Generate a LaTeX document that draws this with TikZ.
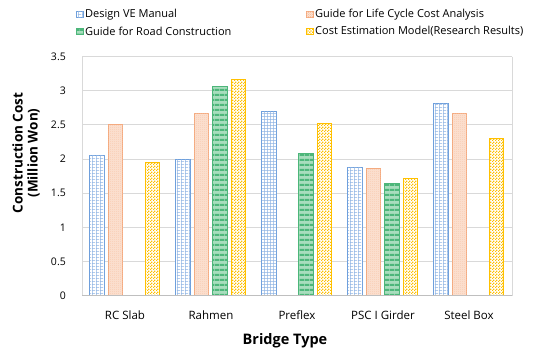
\documentclass[tikz,border=0pt]{standalone}
\usepackage{fontspec}
\setmainfont{Open Sans}
\usetikzlibrary{patterns,patterns.meta}
\definecolor{bluel}{HTML}{6E9FDC}
\definecolor{orl}{HTML}{F4A77A}
\definecolor{orf}{HTML}{FCE3D4}
\definecolor{grl}{HTML}{4DB67A}
\definecolor{grf}{HTML}{A8DDBD}
\definecolor{yel}{HTML}{FFC000}
\definecolor{gridc}{HTML}{D9D9D9}
\tikzdeclarepattern{name=bgrid, type=uncolored, bottom left={(0pt,0pt)}, top right={(3.4pt,3.4pt)}, tile size={(3.4pt,3.4pt)},
  code={\fill (0pt,0pt) rectangle (3.4pt,0.7pt); \fill (0pt,0pt) rectangle (0.7pt,3.4pt);}}
\tikzdeclarepattern{name=chk, type=uncolored, bottom left={(0pt,0pt)}, top right={(3pt,3pt)}, tile size={(3pt,3pt)},
  code={\fill (0pt,0pt) rectangle (1.5pt,1.5pt); \fill (1.5pt,1.5pt) rectangle (3pt,3pt);}}
\tikzdeclarepattern{name=fchk, type=uncolored, bottom left={(0pt,0pt)}, top right={(2pt,2pt)}, tile size={(2pt,2pt)},
  code={\fill (0pt,0pt) rectangle (1pt,1pt); \fill (1pt,1pt) rectangle (2pt,2pt);}}
\tikzdeclarepattern{name=hstr, type=uncolored, bottom left={(0pt,0pt)}, top right={(5pt,5pt)}, tile size={(5pt,5pt)},
  code={\fill (0pt,0pt) rectangle (5pt,2.6pt);}}
\tikzset{
  sblue/.style={draw=bluel, line width=0.9pt, fill=white, postaction={pattern=bgrid, pattern color=bluel!80}},
  sorange/.style={draw=orl, line width=0.9pt, fill=orf, postaction={pattern=fchk, pattern color=orl!70}},
  sgreen/.style={draw=grl, line width=0.9pt, fill=grf, postaction={pattern=hstr, pattern color=grl}},
  syellow/.style={draw=yel, line width=0.9pt, fill=white, postaction={pattern=chk, pattern color=yel}},
  tick/.style={font=\fontsize{10.5}{12}\selectfont, anchor=east, inner sep=0pt},
  cat/.style={font=\fontsize{11.5}{13}\selectfont, inner sep=0pt},
  leg/.style={font=\fontsize{11}{13}\selectfont, anchor=west, inner sep=0pt},
  ttl/.style={font=\bfseries\fontsize{13.5}{15}\selectfont, inner sep=0pt, align=center}
}
\newcommand\mybar[4]{%
  \pgfmathsetmacro\xl{82+86*#1+7.75+18.5*#2}%
  \pgfmathsetmacro\yt{295.7-68.33*#3}%
  \draw[#4] (\xl,295.7) rectangle (\xl+14.5,\yt);}
\begin{document}
\begin{tikzpicture}[x=1pt,y=-1pt]
\useasboundingbox[fill=white] (0,0) rectangle (533,351);
% grid
\foreach \v in {0.5,1,...,3.5}{
  \draw[gridc, line width=0.8pt] (82,{295.7-68.33*\v}) -- (512,{295.7-68.33*\v});
}
\draw[gridc, line width=0.8pt] (82,56.5) -- (82,295.7);
\draw[gridc, line width=0.8pt] (512,56.5) -- (512,295.7);
% ticks
\foreach \v/\t in {0/0,0.5/0.5,1/1,1.5/1.5,2/2,2.5/2.5,3/3,3.5/3.5}{
  \node[tick] (t\v) at (66,{295.7-68.33*\v}) {\t};
}
% bars
\mybar{0}{0}{2.055}{sblue}
\mybar{0}{1}{2.5}{sorange}
\mybar{0}{3}{1.95}{syellow}
\mybar{1}{0}{2.0}{sblue}
\mybar{1}{1}{2.67}{sorange}
\mybar{1}{2}{3.06}{sgreen}
\mybar{1}{3}{3.17}{syellow}
\mybar{2}{0}{2.69}{sblue}
\mybar{2}{2}{2.08}{sgreen}
\mybar{2}{3}{2.52}{syellow}
\mybar{3}{0}{1.87}{sblue}
\mybar{3}{1}{1.865}{sorange}
\mybar{3}{2}{1.64}{sgreen}
\mybar{3}{3}{1.72}{syellow}
\mybar{4}{0}{2.82}{sblue}
\mybar{4}{1}{2.67}{sorange}
\mybar{4}{3}{2.30}{syellow}
\draw[gray!50, line width=0.8pt] (82,295.7) -- (512,295.7);
% categories
\node[cat] (c1) at (125,315) {RC Slab};
\node[cat] (c2) at (211,315) {Rahmen};
\node[cat] (c3) at (297,315) {Preflex};
\node[cat] (c4) at (383,315) {PSC I Girder};
\node[cat] (c5) at (469,315) {Steel Box};
% titles
\node[ttl, font=\bfseries\fontsize{14.5}{16}\selectfont] (xt) at (285,341) {Bridge Type};
\node[ttl, rotate=90] (yt) at (26,153) {Construction Cost\\(Million Won)};
% legend
\draw[sblue, line width=0.6pt] (76.5,11) rectangle (83,17.5);
\node[leg] (l1) at (85,14.5) {Design VE Manual};
\draw[sgreen, line width=0.6pt] (76.5,28) rectangle (83,34.5);
\node[leg] (l2) at (85,31.5) {Guide for Road Construction};
\draw[sorange, line width=0.6pt] (306.5,11) rectangle (313,17.5);
\node[leg] (l3) at (315,14.5) {Guide for Life Cycle Cost Analysis};
\draw[syellow, line width=0.6pt] (306.5,28) rectangle (313,34.5);
\node[leg] (l4) at (315,31.5) {Cost Estimation Model(Research Results)};
\end{tikzpicture}
\end{document}
